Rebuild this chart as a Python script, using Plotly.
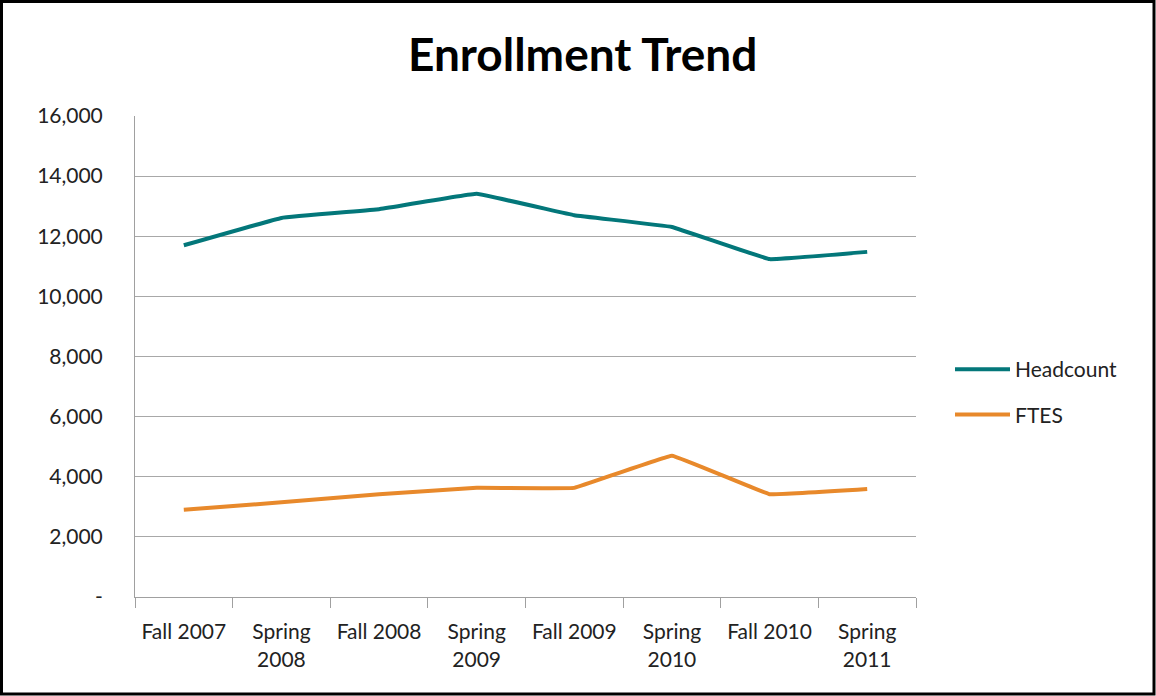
import plotly.graph_objects as go

categories = ["Fall 2007", "Spring<br>2008", "Fall 2008", "Spring<br>2009",
              "Fall 2009", "Spring<br>2010", "Fall 2010", "Spring<br>2011"]
headcount = [11700, 12610, 12900, 13410, 12700, 12310, 11240, 11480]
ftes = [2900, 3150, 3420, 3630, 3630, 4700, 3420, 3590]
y_ticks = [0, 2000, 4000, 6000, 8000, 10000, 12000, 14000, 16000]
y_labels = ["-", "2,000", "4,000", "6,000", "8,000", "10,000", "12,000", "14,000", "16,000"]

W, H = 1156, 696
L, R, T, B = 135, 240, 116, 99
FONT = "Lato"

fig = go.Figure()
fig.add_trace(go.Scatter(x=categories, y=headcount, name="Headcount", mode="lines",
                         legendgroup="a",
                         line=dict(color="#03777A", width=4, shape="spline", smoothing=0.15)))
fig.add_trace(go.Scatter(x=categories, y=ftes, name="FTES", mode="lines",
                         legendgroup="b",
                         line=dict(color="#E8892B", width=4, shape="spline", smoothing=0.15)))

pw = W - L - R
ph = H - T - B
def px(x):
    return (x - L) / pw
def py(y):
    return (H - B - y) / ph

fig.update_layout(
    width=W, height=H,
    margin=dict(l=L, r=R, t=T, b=B, autoexpand=False),
    paper_bgcolor="white", plot_bgcolor="white",
    font=dict(family=FONT, size=21, color="#222222"),
    title=dict(text="<b>Enrollment Trend</b>", x=0.504, xanchor="center",
               y=1 - 55 / H, yanchor="middle",
               font=dict(family=FONT, size=46, color="black")),
    showlegend=True,
    legend=dict(x=px(950), y=py(349), xanchor="left", yanchor="top",
                font=dict(family=FONT, size=21, color="#222222"),
                itemwidth=55, tracegroupgap=15, traceorder="grouped",
                bgcolor="rgba(0,0,0,0)"),
    xaxis=dict(range=[-0.5, 7.5], showgrid=False, showline=True, linecolor="#A0A0A0", linewidth=1,
               ticks="outside", tickson="boundaries", ticklen=10, tickcolor="#A0A0A0",
               tickfont=dict(family=FONT, size=21, color="#222222"), tickangle=0,
               ticklabelstandoff=16, automargin=False,
               fixedrange=True),
    yaxis=dict(range=[0, 16000], tickvals=y_ticks, ticktext=y_labels,
               showgrid=True, gridcolor="#A8A8A8", gridwidth=1,
               showline=True, linecolor="#A0A0A0", linewidth=1,
               zeroline=False, ticks="", ticklabelstandoff=27, automargin=False,
               tickfont=dict(family=FONT, size=21, color="#222222"),
               fixedrange=True),
    shapes=[dict(type="rect", xref="paper", yref="paper",
                 x0=px(1.5), x1=px(W - 2), y0=py(H - 2), y1=py(1.5),
                 line=dict(color="black", width=3), fillcolor="rgba(0,0,0,0)",
                 layer="above")],
)

fig.write_html("out.html", config={"displayModeBar": False},
               post_script="document.body.style.margin='0';document.body.style.overflow='hidden';")
